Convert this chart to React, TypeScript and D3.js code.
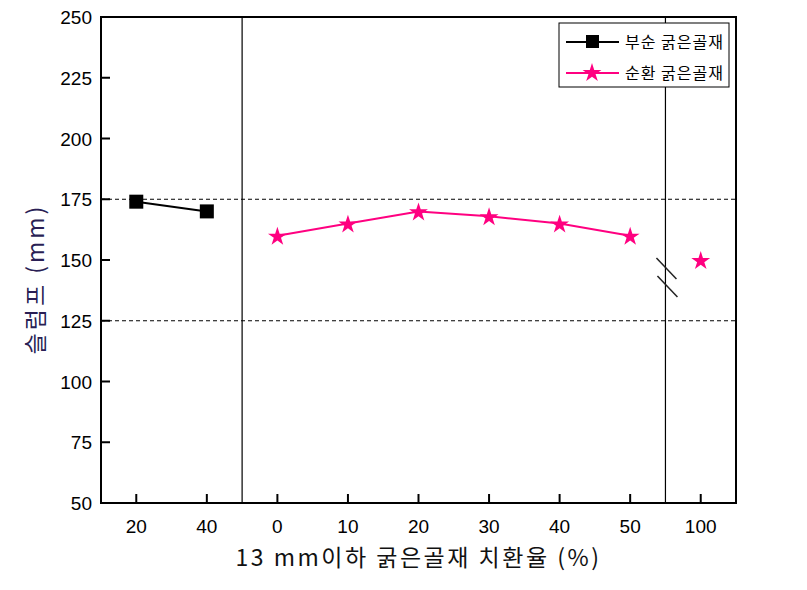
import React, { useEffect, useRef } from 'react';
import * as d3 from 'd3';

// x categories (slot key + shown label)
const slots = ['c20', 'c40', 'r0', 'r10', 'r20', 'r30', 'r40', 'r50', 'r100'];
const slotLabels = ['20', '40', '0', '10', '20', '30', '40', '50', '100'];

// 부순 굵은골재
const crushedX = ['c20', 'c40'];
const crushedY = [174, 170];

// 순환 굵은골재 (connected part) + the 100% point after the break
const recycledX = ['r0', 'r10', 'r20', 'r30', 'r40', 'r50'];
const recycledY = [160, 165, 170, 168, 165, 160];
const recycledBreakX = ['r100'];
const recycledBreakY = [150];

const yTicks = [50, 75, 100, 125, 150, 175, 200, 225, 250];
const refLines = [175, 125];

const PINK = '#ff0080';
const KR = "'Noto Sans CJK KR', sans-serif";
const NUM = "'Liberation Sans', Arial, sans-serif";

export default function App() {
  const ref = useRef<SVGSVGElement>(null);

  useEffect(() => {
    const svg = d3.select(ref.current);
    svg.selectAll('*').remove();

    const left = 101, right = 736, top = 17, bottom = 503;
    const x = d3.scalePoint<string>().domain(slots).range([left, right]).padding(0.5);
    const y = d3.scaleLinear().domain([50, 250]).range([bottom, top]);
    const step = x.step();

    // dashed reference lines
    svg.selectAll('.ref').data(refLines).enter().append('line')
      .attr('x1', left).attr('x2', right)
      .attr('y1', d => y(d)).attr('y2', d => y(d))
      .attr('stroke', '#000').attr('stroke-width', 1).attr('stroke-dasharray', '4,3');

    // group separators
    const seps = [x('c40')! + step / 2, x('r50')! + step / 2];
    svg.selectAll('.sep').data(seps).enter().append('line')
      .attr('x1', d => d).attr('x2', d => d)
      .attr('y1', top).attr('y2', bottom)
      .attr('stroke', '#000').attr('stroke-width', 1.2);

    // break marks
    const bx = seps[1];
    [[-9, 258, 279], [-8, 276, 297]].forEach(([dx, y1, y2]) => {
      svg.append('line')
        .attr('x1', bx + dx).attr('y1', y1).attr('x2', bx + dx + 20).attr('y2', y2)
        .attr('stroke', '#222').attr('stroke-width', 1.5);
    });

    // axes frame
    svg.append('rect').attr('x', left).attr('y', top)
      .attr('width', right - left).attr('height', bottom - top)
      .attr('fill', 'none').attr('stroke', '#000').attr('stroke-width', 2);

    // y ticks (inward)
    const yAxis = svg.append('g');
    yTicks.forEach(t => {
      yAxis.append('line').attr('x1', left).attr('x2', left + 9)
        .attr('y1', y(t)).attr('y2', y(t)).attr('stroke', '#000').attr('stroke-width', 2);
      yAxis.append('text').attr('x', left - 9).attr('y', y(t) + 7)
        .attr('text-anchor', 'end').attr('font-family', NUM).attr('font-size', 19)
        .text(t);
    });

    // x ticks (inward)
    slots.forEach((s, i) => {
      const px = x(s)!;
      svg.append('line').attr('x1', px).attr('x2', px)
        .attr('y1', bottom).attr('y2', bottom - 9).attr('stroke', '#000').attr('stroke-width', 2);
      svg.append('text').attr('x', px).attr('y', bottom + 30)
        .attr('text-anchor', 'middle').attr('font-family', NUM).attr('font-size', 19)
        .text(slotLabels[i]);
    });

    // axis titles
    svg.append('text').attr('x', (left + right) / 2).attr('y', 566)
      .attr('text-anchor', 'middle').attr('font-family', KR).attr('font-size', 23)
      .attr('letter-spacing', 2.5)
      .attr('fill', '#111').text('13 mm이하 굵은골재 치환율 (%)');
    svg.append('text')
      .attr('transform', `translate(44,${(top + bottom) / 2 + 19}) rotate(-90)`)
      .attr('text-anchor', 'middle').attr('font-family', KR).attr('font-size', 23)
      .attr('letter-spacing', 3)
      .attr('fill', '#2a1f55').text('슬럼프 (mm)');

    const line = d3.line<[string, number]>().x(d => x(d[0])!).y(d => y(d[1]));
    const star = d3.symbol().type(d3.symbolStar).size(110);

    // 부순
    const crushed = crushedX.map((k, i) => [k, crushedY[i]] as [string, number]);
    svg.append('path').attr('d', line(crushed)).attr('fill', 'none')
      .attr('stroke', '#000').attr('stroke-width', 2);
    svg.selectAll('.sq').data(crushed).enter().append('rect')
      .attr('x', d => x(d[0])! - 7).attr('y', d => y(d[1]) - 7)
      .attr('width', 14).attr('height', 14).attr('fill', '#000');

    // 순환
    const recycled = recycledX.map((k, i) => [k, recycledY[i]] as [string, number]);
    svg.append('path').attr('d', line(recycled)).attr('fill', 'none')
      .attr('stroke', PINK).attr('stroke-width', 2);
    const stars = recycled.concat(recycledBreakX.map((k, i) => [k, recycledBreakY[i]] as [string, number]));
    svg.selectAll('.st').data(stars).enter().append('path')
      .attr('d', star()!)
      .attr('transform', d => `translate(${x(d[0])},${y(d[1]) + 1})`)
      .attr('fill', PINK);

    // legend
    const lg = svg.append('g');
    lg.append('rect').attr('x', 559).attr('y', 23).attr('width', 170).attr('height', 64)
      .attr('fill', '#fff').attr('stroke', '#000').attr('stroke-width', 1);
    lg.append('line').attr('x1', 566).attr('x2', 619).attr('y1', 42).attr('y2', 42)
      .attr('stroke', '#000').attr('stroke-width', 2);
    lg.append('rect').attr('x', 586).attr('y', 35).attr('width', 13).attr('height', 13).attr('fill', '#000');
    lg.append('line').attr('x1', 566).attr('x2', 619).attr('y1', 73).attr('y2', 73)
      .attr('stroke', PINK).attr('stroke-width', 2);
    lg.append('path').attr('d', star()!).attr('transform', 'translate(592,73)').attr('fill', PINK);
    lg.append('text').attr('x', 625).attr('y', 48).attr('font-family', KR).attr('font-size', 16)
      .attr('letter-spacing', 1).text('부순 굵은골재');
    lg.append('text').attr('x', 625).attr('y', 79).attr('font-family', KR).attr('font-size', 16)
      .attr('letter-spacing', 1).text('순환 굵은골재');
  }, []);

  return <svg ref={ref} width={807} height={590} style={{ position: 'absolute', left: 0, top: 0, background: '#fff' }} />;
}
